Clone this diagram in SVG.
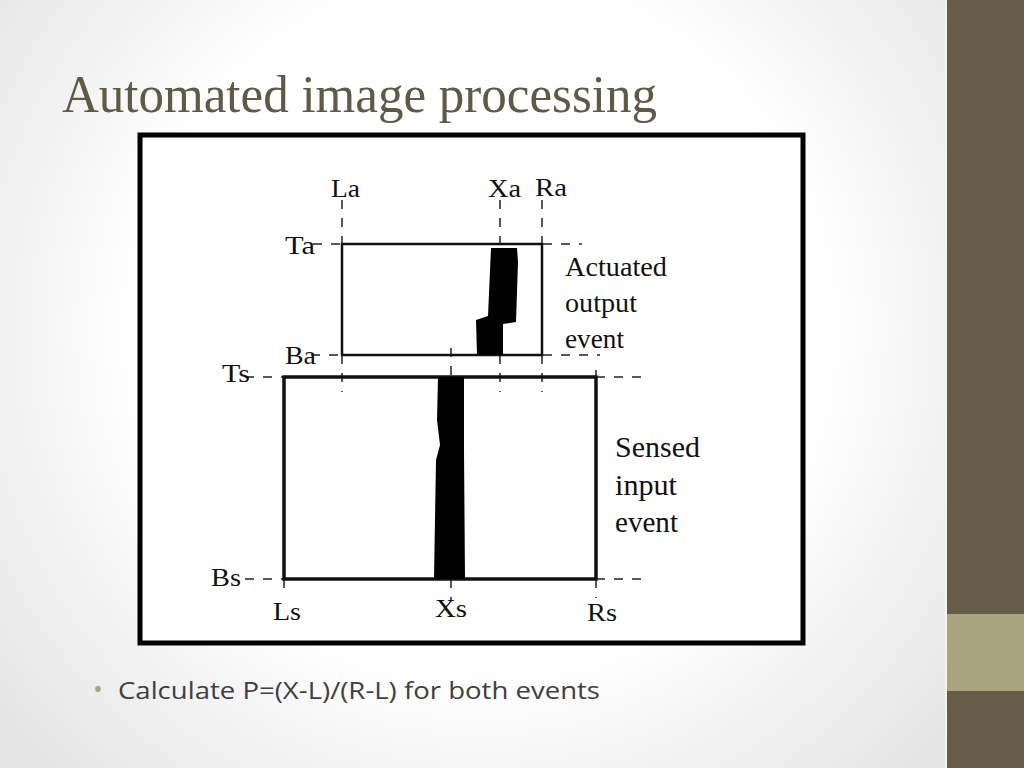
<svg xmlns="http://www.w3.org/2000/svg" width="1024" height="768" viewBox="0 0 1024 768">
<defs>
<radialGradient id="bg" cx="480" cy="330" r="620" gradientUnits="userSpaceOnUse">
<stop offset="0.55" stop-color="#ffffff"/>
<stop offset="1" stop-color="#e4e4e4"/>
</radialGradient>
<style>
.lbl{font-family:"Liberation Serif",serif;font-size:26px;fill:#111}
.lbl2{font-family:"Liberation Serif",serif;font-size:28px;fill:#111}
.big{font-family:"Liberation Serif",serif;font-size:30px;fill:#111}
.dash{stroke:#222;stroke-width:1.5;stroke-dasharray:9 9;fill:none}
.box{fill:none;stroke:#111}
</style>
</defs>
<rect width="1024" height="768" fill="url(#bg)"/>
<rect x="947" y="0" width="77" height="768" fill="#665c47"/>
<rect x="947" y="614" width="77" height="77" fill="#a8a57e"/>
<line x1="946" y1="0" x2="946" y2="768" stroke="#f4f4f4" stroke-width="2"/>
<text x="62" y="112" font-family="Liberation Serif, serif" font-size="52" fill="#5e5a45" textLength="595" lengthAdjust="spacingAndGlyphs">Automated image processing</text>
<g id="figure">
<rect x="140" y="135" width="663" height="508" fill="#fff" stroke="#000" stroke-width="5"/>
</g>
<g id="connectors">
<path class="dash" d="M342 200V244M342 355V392M500 200V244M500 355V392M542 200V244M542 355V392"/>
<path class="dash" d="M451 348V377M451 579V600M284 579V592M596 579V598M596 370V377"/>
<path class="dash" d="M313 244H341M543 244H582M311 355H341M543 355H600M245 377H284M596 377H642M245 579H284M596 579H642"/>
</g>
<g id="actuated">
<rect class="box" x="342" y="244" width="200" height="111" stroke-width="2.5"/>
<path d="M491 248H517L518 262L516 322L503 324V355H477L476 320L488 316Z" fill="#000"/>
</g>
<g id="sensed">
<rect class="box" x="284" y="377" width="312" height="202" stroke-width="3.5"/>
<path d="M438 377H464L464 450L465 579H434L436 460L440 445L437 420Z" fill="#000"/>
</g>
<g id="labels">
<text class="lbl" x="331" y="197" textLength="29" lengthAdjust="spacingAndGlyphs">La</text>
<text class="lbl" x="488" y="197" textLength="33" lengthAdjust="spacingAndGlyphs">Xa</text>
<text class="lbl" x="535" y="196" textLength="32" lengthAdjust="spacingAndGlyphs">Ra</text>
<text class="lbl" x="285" y="254" textLength="30" lengthAdjust="spacingAndGlyphs">Ta</text>
<text class="lbl" x="285" y="364" textLength="31" lengthAdjust="spacingAndGlyphs">Ba</text>
<text class="lbl" x="222" y="382" textLength="28" lengthAdjust="spacingAndGlyphs">Ts</text>
<text class="lbl" x="211" y="586" textLength="30" lengthAdjust="spacingAndGlyphs">Bs</text>
<text class="lbl" x="273" y="620" textLength="28" lengthAdjust="spacingAndGlyphs">Ls</text>
<text class="lbl" x="435" y="617" textLength="32" lengthAdjust="spacingAndGlyphs">Xs</text>
<text class="lbl" x="587" y="621" textLength="30" lengthAdjust="spacingAndGlyphs">Rs</text>
<text class="lbl2" x="565" y="276" textLength="102" lengthAdjust="spacingAndGlyphs">Actuated</text>
<text class="lbl2" x="565" y="312" textLength="72" lengthAdjust="spacingAndGlyphs">output</text>
<text class="lbl2" x="565" y="348" textLength="59" lengthAdjust="spacingAndGlyphs">event</text>
<text class="big" x="615" y="457" textLength="85" lengthAdjust="spacingAndGlyphs">Sensed</text>
<text class="big" x="615" y="495" textLength="62" lengthAdjust="spacingAndGlyphs">input</text>
<text class="big" x="615" y="532" textLength="63" lengthAdjust="spacingAndGlyphs">event</text>
</g>
<text x="93" y="698" font-family="Open Sans, sans-serif" font-size="26" fill="#a8a57e">•</text>
<text x="118" y="699" font-family="Open Sans, sans-serif" font-size="24" fill="#404040" textLength="482" lengthAdjust="spacingAndGlyphs">Calculate P=(X-L)/(R-L) for both events</text>
</svg>
